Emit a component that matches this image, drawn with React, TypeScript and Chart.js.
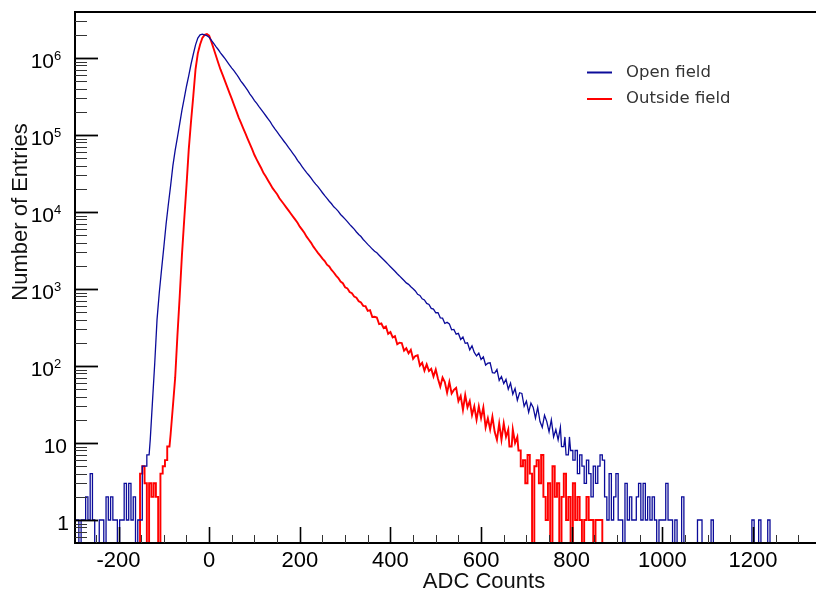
import React, { useEffect, useRef } from "react";
import { Chart, registerables } from "chart.js";

Chart.register(...registerables);

// ---------- data (histogram counts, bin width 5 ADC) ----------
const BIN = 5;
const OPEN_START = -295; // centre of first "Open field" bin
const OUTSIDE_START = -155; // centre of first "Outside field" bin

const openField = [
  1, 1, 0, 1, 1, 2, 1, 4, 1, 0,
  0, 1, 1, 0, 2, 1, 2, 1, 1, 0,
  1, 1, 3, 1, 3, 1, 2, 0, 1, 1,
  5, 5, 7, 11, 35, 110, 400, 900, 1800, 3500,
  7000, 12600, 22000, 40000, 63000, 93000, 140000, 210000, 300000, 430000,
  590000, 830000, 1120000, 1480000, 1820000, 2000000, 2040000, 2000000, 1950000, 1860000,
  1700000, 1550000, 1410000, 1290000, 1170000, 1070000, 980000, 890000, 810000, 740000,
  680000, 620000, 560000, 500000, 460000, 420000, 380000, 340000, 310000, 280000,
  257000, 234000, 214000, 195000, 178000, 162000, 148000, 132000, 120000, 110000,
  100000, 91000, 83000, 76000, 69000, 63000, 57500, 52500, 47000, 43000,
  39000, 35500, 32500, 30000, 27500, 25000, 23000, 21400, 19500, 17800,
  16300, 15000, 13800, 12800, 11700, 11000, 10200, 9300, 8700, 8100,
  7500, 6900, 6450, 6000, 5500, 5100, 4800, 4400, 4100, 3800,
  3550, 3300, 3100, 2950, 2750, 2570, 2400, 2240, 2090, 1950,
  1820, 1700, 1580, 1480, 1380, 1290, 1200, 1150, 1070, 1010,
  945, 855, 825, 745, 720, 650, 630, 560, 548, 492,
  494, 422, 418, 357, 369, 353, 295, 299, 259, 265,
  221, 238, 197, 200, 162, 183, 150, 135, 147, 122,
  132, 103, 109, 110, 82, 81, 90, 65, 73, 59,
  67, 50, 60, 43, 51, 36, 45, 44, 30, 35,
  25, 33, 29, 21, 29, 19, 16, 23, 19, 14,
  20, 12, 15, 11, 16, 9, 12, 7, 12, 8,
  6, 8, 4, 7, 5, 3, 6, 4, 2, 5,
  3, 5, 7, 6, 2, 1, 4, 1, 2, 4,
  1, 1, 0, 3, 1, 2, 1, 1, 2, 3,
  1, 3, 1, 2, 1, 2, 1, 0, 1, 1,
  1, 3, 1, 1, 0, 1, 0, 0, 2, 0,
  0, 0, 0, 0, 0, 1, 1, 0, 0, 0,
  0, 1, 0, 0, 0, 0, 0, 0, 0, 0,
  0, 0, 0, 0, 0, 0, 0, 0, 0, 1,
  0, 0, 1, 0, 0, 0, 1, 0, 0, 0,
];

const outsideField = [
  0, 4, 5, 3, 0, 3, 2, 3, 2, 0,
  4, 5, 6, 9, 13, 30, 70, 250, 800, 2800,
  8000, 22000, 65000, 150000, 320000, 720000, 1150000, 1500000, 1820000, 2000000,
  2050000, 1950000, 1620000, 1320000, 1070000, 870000, 710000, 600000, 500000, 420000,
  350000, 295000, 245000, 204000, 170000, 145000, 123000, 105000, 89000, 76000,
  65000, 55000, 48000, 42000, 37000, 32000, 29000, 25700, 22900, 20400,
  18600, 17000, 15100, 13800, 12600, 11500, 10500, 9550, 8700, 7950,
  7250, 6450, 5900, 5370, 4790, 4370, 3980, 3550, 3240, 2950,
  2710, 2490, 2310, 2070, 1960, 1770, 1640, 1495, 1390, 1250,
  1190, 1055, 1020, 915, 880, 800, 772, 695, 670, 605,
  598, 521, 531, 434, 436, 426, 350, 357, 311, 326,
  262, 276, 235, 244, 192, 201, 199, 158, 170, 146,
  162, 124, 135, 138, 101, 110, 87, 105, 86, 92,
  73, 90, 68, 54, 71, 62, 45, 62, 44, 49,
  52, 35, 41, 27, 42, 29, 35, 23, 30, 20,
  30, 21, 29, 16, 21, 15, 22, 14, 11, 18,
  11, 18, 12, 15, 9, 15, 10, 12, 8, 5,
  6, 3, 7, 4, 0, 5, 6, 3, 7, 2,
  1, 3, 0, 5, 2, 3, 0, 2, 4, 1,
  2, 0, 3, 1, 2, 1, 0, 1, 2, 1,
  1, 0, 1, 1, 1, 0, 0,
];

const seriesLabels = ["Open field", "Outside field"];
const seriesColors = ["#0b0b99", "#ff0000"];
const xTickLabels = [-200, 0, 200, 400, 600, 800, 1000, 1200];
const yDecades = [0, 1, 2, 3, 4, 5, 6];
const xTitle = "ADC Counts";
const yTitle = "Number of Entries";

const X_MIN = -296;
const X_MAX = 1339;
const Y_MIN = 0.503;
const Y_MAX = 3.96e6;
const ZERO_DRAW = 0.1; // empty bins are drawn down to below the axis
const STEP_BELOW = 10; // low-count bins are drawn as flat histogram steps

// Build the line table: well-filled bins as their centre point (smooth curve),
// sparse bins as a flat step across the bin width (histogram look).
function toPoints(start: number, counts: number[]) {
  const pts: { x: number; y: number }[] = [];
  counts.forEach((c, i) => {
    const xc = start + i * BIN;
    const y = c > 0 ? c : ZERO_DRAW;
    if (c < STEP_BELOW) {
      pts.push({ x: xc - BIN / 2, y });
      pts.push({ x: xc + BIN / 2, y });
    } else {
      pts.push({ x: xc, y });
    }
  });
  return pts;
}

const FONT = '"Liberation Sans", Arial, Helvetica, sans-serif';

const rootStyle = {
  id: "rootStyle",
  beforeDraw(chart: any) {
    const { ctx, width, height } = chart;
    ctx.save();
    ctx.fillStyle = "#ffffff";
    ctx.fillRect(0, 0, width, height);
    ctx.restore();
  },
  afterDraw(chart: any) {
    const { ctx, chartArea: a } = chart;
    const xs = chart.scales.x;
    const ys = chart.scales.y;
    ctx.save();

    // frame
    ctx.strokeStyle = "#000";
    ctx.lineWidth = 2;
    ctx.strokeRect(a.left, a.top, a.right - a.left + 6, a.bottom - a.top);

    // x ticks (inside)
    for (let v = -250; v <= 1300; v += 50) {
      const px = Math.round(xs.getPixelForValue(v)) + 0.5;
      const major = v % 200 === 0;
      ctx.beginPath();
      ctx.lineWidth = major ? 1.6 : 1;
      ctx.strokeStyle = major ? "#000" : "#333";
      ctx.moveTo(px, a.bottom);
      ctx.lineTo(px, a.bottom - (major ? 16 : 8));
      ctx.stroke();
    }

    // y ticks (inside)
    for (let d = -1; d <= 6; d++) {
      for (let m = 1; m <= 9; m++) {
        const v = m * Math.pow(10, d);
        if (v < Y_MIN || v > Y_MAX) continue;
        const py = Math.round(ys.getPixelForValue(v)) + 0.5;
        const major = m === 1;
        ctx.beginPath();
        ctx.lineWidth = major ? 1.8 : 1;
        ctx.strokeStyle = major ? "#000" : "#333";
        ctx.moveTo(a.left, py);
        ctx.lineTo(a.left + (major ? 23 : 12), py);
        ctx.stroke();
      }
    }

    // x tick labels
    ctx.fillStyle = "#000";
    ctx.font = `22px ${FONT}`;
    ctx.textAlign = "center";
    ctx.textBaseline = "alphabetic";
    xTickLabels.forEach((v) => {
      ctx.fillText(String(v), xs.getPixelForValue(v), 567);
    });

    // y tick labels
    yDecades.forEach((d) => {
      const py = ys.getPixelForValue(Math.pow(10, d));
      ctx.textBaseline = "alphabetic";
      ctx.font = `21px ${FONT}`;
      ctx.textAlign = "right";
      if (d === 0) {
        ctx.fillText("1", 69, py + 10);
      } else if (d === 1) {
        ctx.fillText("10", 67, py + 10);
      } else {
        ctx.fillText("10", 54, py + 10);
        ctx.font = `13px ${FONT}`;
        ctx.textAlign = "left";
        ctx.fillText(String(d), 54, py + 1.5);
      }
    });

    // axis titles
    ctx.font = `22px ${FONT}`;
    ctx.textAlign = "center";
    ctx.textBaseline = "alphabetic";
    ctx.fillStyle = "#111";
    ctx.fillText(xTitle, 484, 588);
    ctx.save();
    ctx.translate(27, 212);
    ctx.rotate(-Math.PI / 2);
    ctx.fillText(yTitle, 0, 0);
    ctx.restore();

    // legend
    const legendY = [72.5, 99];
    chart.data.datasets.forEach((ds: any, i: number) => {
      ctx.beginPath();
      ctx.strokeStyle = ds.borderColor;
      ctx.lineWidth = 2;
      ctx.moveTo(587, legendY[i]);
      ctx.lineTo(612, legendY[i]);
      ctx.stroke();
      ctx.fillStyle = "#333";
      ctx.font = '16.5px "DejaVu Sans", Verdana, sans-serif';
      ctx.textAlign = "left";
      ctx.textBaseline = "middle";
      ctx.fillText(ds.label, 626, legendY[i]);
    });

    ctx.restore();
  },
};

export default function App() {
  const ref = useRef<HTMLCanvasElement | null>(null);

  useEffect(() => {
    if (!ref.current) return;
    const chart = new Chart(ref.current, {
      type: "line",
      data: {
        datasets: [
          {
            label: seriesLabels[0],
            data: toPoints(OPEN_START, openField),
            borderColor: seriesColors[0],
            borderWidth: 1.3,
            pointRadius: 0,
            tension: 0,
            fill: false,
          },
          {
            label: seriesLabels[1],
            data: toPoints(OUTSIDE_START, outsideField),
            borderColor: seriesColors[1],
            borderWidth: 1.9,
            pointRadius: 0,
            tension: 0,
            fill: false,
          },
        ],
      },
      options: {
        animation: false,
        responsive: false,
        devicePixelRatio: 1,
        events: [],
        layout: { padding: { left: 75, top: 12, right: 0, bottom: 49 } },
        plugins: {
          legend: { display: false },
          tooltip: { enabled: false },
        },
        scales: {
          x: { type: "linear", min: X_MIN, max: X_MAX, display: false },
          y: { type: "logarithmic", min: Y_MIN, max: Y_MAX, display: false },
        },
      },
      plugins: [rootStyle],
    });
    return () => chart.destroy();
  }, []);

  return (
    <div style={{ position: "fixed", left: 0, top: 0, width: 816, height: 592, background: "#fff" }}>
      <canvas ref={ref} width={816} height={592} style={{ display: "block", width: 816, height: 592 }} />
    </div>
  );
}
